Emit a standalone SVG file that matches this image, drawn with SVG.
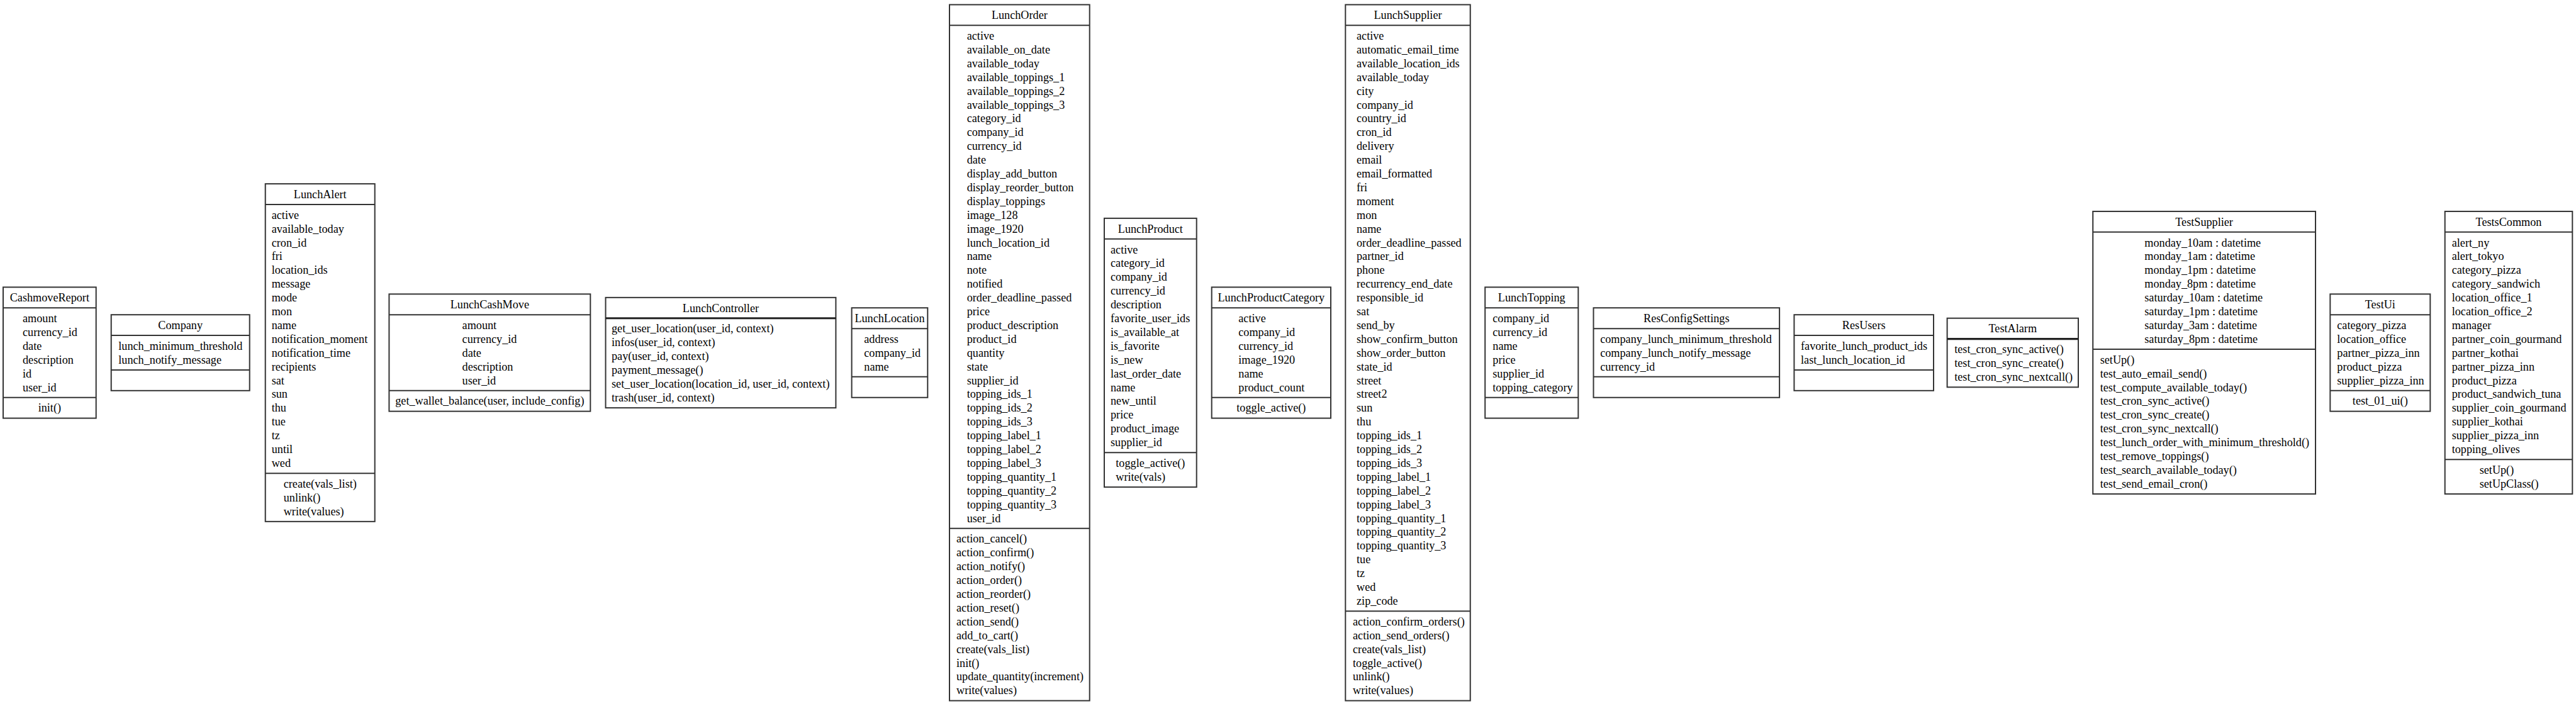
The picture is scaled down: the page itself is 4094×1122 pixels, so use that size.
<svg xmlns="http://www.w3.org/2000/svg" width="4094" height="1122" viewBox="0 0 4094 1122">
<style>
.bg{fill:#ffffff}
.box{fill:#ffffff;stroke:#333333;stroke-width:2}
.div{stroke:#333333;stroke-width:2}
.thick{stroke:#222222;stroke-width:3.2}
text{font-family:"Liberation Serif","Times New Roman",serif;font-size:18.2px;fill:#000000}
.c{text-anchor:middle}
</style>
<rect class="bg" x="0" y="0" width="4094" height="1122"/>
<g id="connectors"></g>

<g id="CashmoveReport">
<rect class="box" x="5" y="456.4" width="147.7" height="208.2"/>
<line class="div" x1="5" y1="489.3" x2="152.7" y2="489.3"/>
<line class="div" x1="5" y1="631.7" x2="152.7" y2="631.7"/>
<text class="c" x="78.85" y="479.1">CashmoveReport</text>
<text x="36" y="512"><tspan x="36">amount</tspan><tspan x="36" dy="21.9">currency_id</tspan><tspan x="36" dy="21.9">date</tspan><tspan x="36" dy="21.9">description</tspan><tspan x="36" dy="21.9">id</tspan><tspan x="36" dy="21.9">user_id</tspan></text>
<text class="c" x="78.85" y="654.4">init()</text>
</g>

<g id="Company">
<rect class="box" x="176.7" y="500.2" width="220" height="120.6"/>
<line class="div" x1="176.7" y1="533.1" x2="396.7" y2="533.1"/>
<line class="div" x1="176.7" y1="587.9" x2="396.7" y2="587.9"/>
<text class="c" x="286.7" y="522.9">Company</text>
<text x="188.3" y="555.8"><tspan x="188.3">lunch_minimum_threshold</tspan><tspan x="188.3" dy="21.9">lunch_notify_message</tspan></text>
</g>

<g id="LunchAlert">
<rect class="box" x="421.7" y="292.15" width="174" height="536.7"/>
<line class="div" x1="421.7" y1="325.05" x2="595.7" y2="325.05"/>
<line class="div" x1="421.7" y1="752.15" x2="595.7" y2="752.15"/>
<text class="c" x="508.7" y="314.85">LunchAlert</text>
<text x="431.7" y="347.75"><tspan x="431.7">active</tspan><tspan x="431.7" dy="21.9">available_today</tspan><tspan x="431.7" dy="21.9">cron_id</tspan><tspan x="431.7" dy="21.9">fri</tspan><tspan x="431.7" dy="21.9">location_ids</tspan><tspan x="431.7" dy="21.9">message</tspan><tspan x="431.7" dy="21.9">mode</tspan><tspan x="431.7" dy="21.9">mon</tspan><tspan x="431.7" dy="21.9">name</tspan><tspan x="431.7" dy="21.9">notification_moment</tspan><tspan x="431.7" dy="21.9">notification_time</tspan><tspan x="431.7" dy="21.9">recipients</tspan><tspan x="431.7" dy="21.9">sat</tspan><tspan x="431.7" dy="21.9">sun</tspan><tspan x="431.7" dy="21.9">thu</tspan><tspan x="431.7" dy="21.9">tue</tspan><tspan x="431.7" dy="21.9">tz</tspan><tspan x="431.7" dy="21.9">until</tspan><tspan x="431.7" dy="21.9">wed</tspan></text>
<text x="450.7" y="774.85"><tspan x="450.7">create(vals_list)</tspan><tspan x="450.7" dy="21.9">unlink()</tspan><tspan x="450.7" dy="21.9">write(values)</tspan></text>
</g>

<g id="LunchCashMove">
<rect class="box" x="618.4" y="467.35" width="319.9" height="186.3"/>
<line class="div" x1="618.4" y1="500.25" x2="938.3" y2="500.25"/>
<line class="div" x1="618.4" y1="620.75" x2="938.3" y2="620.75"/>
<text class="c" x="778.35" y="490.05">LunchCashMove</text>
<text x="734.6" y="522.95"><tspan x="734.6">amount</tspan><tspan x="734.6" dy="21.9">currency_id</tspan><tspan x="734.6" dy="21.9">date</tspan><tspan x="734.6" dy="21.9">description</tspan><tspan x="734.6" dy="21.9">user_id</tspan></text>
<text class="c" x="778.35" y="643.45">get_wallet_balance(user, include_config)</text>
</g>

<g id="LunchController">
<rect class="box" x="962.5" y="472.85" width="365.9" height="175.3"/>
<line class="thick" x1="962.5" y1="505.75" x2="1328.4" y2="505.75"/>
<text class="c" x="1145.45" y="495.55">LunchController</text>
<text x="972" y="528.45"><tspan x="972">get_user_location(user_id, context)</tspan><tspan x="972" dy="21.9">infos(user_id, context)</tspan><tspan x="972" dy="21.9">pay(user_id, context)</tspan><tspan x="972" dy="21.9">payment_message()</tspan><tspan x="972" dy="21.9">set_user_location(location_id, user_id, context)</tspan><tspan x="972" dy="21.9">trash(user_id, context)</tspan></text>
</g>

<g id="LunchLocation">
<rect class="box" x="1353.6" y="489.25" width="120.7" height="142.5"/>
<line class="div" x1="1353.6" y1="522.15" x2="1474.3" y2="522.15"/>
<line class="div" x1="1353.6" y1="598.85" x2="1474.3" y2="598.85"/>
<text class="c" x="1413.95" y="511.95">LunchLocation</text>
<text x="1373.3" y="544.85"><tspan x="1373.3">address</tspan><tspan x="1373.3" dy="21.9">company_id</tspan><tspan x="1373.3" dy="21.9">name</tspan></text>
</g>

<g id="LunchOrder">
<rect class="box" x="1509" y="7.45" width="222.7" height="1106.1"/>
<line class="div" x1="1509" y1="40.35" x2="1731.7" y2="40.35"/>
<line class="div" x1="1509" y1="839.75" x2="1731.7" y2="839.75"/>
<text class="c" x="1620.35" y="30.15">LunchOrder</text>
<text x="1536.7" y="63.05"><tspan x="1536.7">active</tspan><tspan x="1536.7" dy="21.9">available_on_date</tspan><tspan x="1536.7" dy="21.9">available_today</tspan><tspan x="1536.7" dy="21.9">available_toppings_1</tspan><tspan x="1536.7" dy="21.9">available_toppings_2</tspan><tspan x="1536.7" dy="21.9">available_toppings_3</tspan><tspan x="1536.7" dy="21.9">category_id</tspan><tspan x="1536.7" dy="21.9">company_id</tspan><tspan x="1536.7" dy="21.9">currency_id</tspan><tspan x="1536.7" dy="21.9">date</tspan><tspan x="1536.7" dy="21.9">display_add_button</tspan><tspan x="1536.7" dy="21.9">display_reorder_button</tspan><tspan x="1536.7" dy="21.9">display_toppings</tspan><tspan x="1536.7" dy="21.9">image_128</tspan><tspan x="1536.7" dy="21.9">image_1920</tspan><tspan x="1536.7" dy="21.9">lunch_location_id</tspan><tspan x="1536.7" dy="21.9">name</tspan><tspan x="1536.7" dy="21.9">note</tspan><tspan x="1536.7" dy="21.9">notified</tspan><tspan x="1536.7" dy="21.9">order_deadline_passed</tspan><tspan x="1536.7" dy="21.9">price</tspan><tspan x="1536.7" dy="21.9">product_description</tspan><tspan x="1536.7" dy="21.9">product_id</tspan><tspan x="1536.7" dy="21.9">quantity</tspan><tspan x="1536.7" dy="21.9">state</tspan><tspan x="1536.7" dy="21.9">supplier_id</tspan><tspan x="1536.7" dy="21.9">topping_ids_1</tspan><tspan x="1536.7" dy="21.9">topping_ids_2</tspan><tspan x="1536.7" dy="21.9">topping_ids_3</tspan><tspan x="1536.7" dy="21.9">topping_label_1</tspan><tspan x="1536.7" dy="21.9">topping_label_2</tspan><tspan x="1536.7" dy="21.9">topping_label_3</tspan><tspan x="1536.7" dy="21.9">topping_quantity_1</tspan><tspan x="1536.7" dy="21.9">topping_quantity_2</tspan><tspan x="1536.7" dy="21.9">topping_quantity_3</tspan><tspan x="1536.7" dy="21.9">user_id</tspan></text>
<text x="1520" y="862.45"><tspan x="1520">action_cancel()</tspan><tspan x="1520" dy="21.9">action_confirm()</tspan><tspan x="1520" dy="21.9">action_notify()</tspan><tspan x="1520" dy="21.9">action_order()</tspan><tspan x="1520" dy="21.9">action_reorder()</tspan><tspan x="1520" dy="21.9">action_reset()</tspan><tspan x="1520" dy="21.9">action_send()</tspan><tspan x="1520" dy="21.9">add_to_cart()</tspan><tspan x="1520" dy="21.9">create(vals_list)</tspan><tspan x="1520" dy="21.9">init()</tspan><tspan x="1520" dy="21.9">update_quantity(increment)</tspan><tspan x="1520" dy="21.9">write(values)</tspan></text>
</g>

<g id="LunchProduct">
<rect class="box" x="1755" y="346.9" width="146.7" height="427.2"/>
<line class="div" x1="1755" y1="379.8" x2="1901.7" y2="379.8"/>
<line class="div" x1="1755" y1="719.3" x2="1901.7" y2="719.3"/>
<text class="c" x="1828.35" y="369.6">LunchProduct</text>
<text x="1765" y="402.5"><tspan x="1765">active</tspan><tspan x="1765" dy="21.9">category_id</tspan><tspan x="1765" dy="21.9">company_id</tspan><tspan x="1765" dy="21.9">currency_id</tspan><tspan x="1765" dy="21.9">description</tspan><tspan x="1765" dy="21.9">favorite_user_ids</tspan><tspan x="1765" dy="21.9">is_available_at</tspan><tspan x="1765" dy="21.9">is_favorite</tspan><tspan x="1765" dy="21.9">is_new</tspan><tspan x="1765" dy="21.9">last_order_date</tspan><tspan x="1765" dy="21.9">name</tspan><tspan x="1765" dy="21.9">new_until</tspan><tspan x="1765" dy="21.9">price</tspan><tspan x="1765" dy="21.9">product_image</tspan><tspan x="1765" dy="21.9">supplier_id</tspan></text>
<text x="1773.3" y="742"><tspan x="1773.3">toggle_active()</tspan><tspan x="1773.3" dy="21.9">write(vals)</tspan></text>
</g>

<g id="LunchProductCategory">
<rect class="box" x="1925.7" y="456.4" width="189.3" height="208.2"/>
<line class="div" x1="1925.7" y1="489.3" x2="2115" y2="489.3"/>
<line class="div" x1="1925.7" y1="631.7" x2="2115" y2="631.7"/>
<text class="c" x="2020.35" y="479.1">LunchProductCategory</text>
<text x="1968.3" y="512"><tspan x="1968.3">active</tspan><tspan x="1968.3" dy="21.9">company_id</tspan><tspan x="1968.3" dy="21.9">currency_id</tspan><tspan x="1968.3" dy="21.9">image_1920</tspan><tspan x="1968.3" dy="21.9">name</tspan><tspan x="1968.3" dy="21.9">product_count</tspan></text>
<text class="c" x="2020.35" y="654.4">toggle_active()</text>
</g>

<g id="LunchSupplier">
<rect class="box" x="2138.3" y="7.45" width="198.4" height="1106.1"/>
<line class="div" x1="2138.3" y1="40.35" x2="2336.7" y2="40.35"/>
<line class="div" x1="2138.3" y1="971.15" x2="2336.7" y2="971.15"/>
<text class="c" x="2237.5" y="30.15">LunchSupplier</text>
<text x="2156" y="63.05"><tspan x="2156">active</tspan><tspan x="2156" dy="21.9">automatic_email_time</tspan><tspan x="2156" dy="21.9">available_location_ids</tspan><tspan x="2156" dy="21.9">available_today</tspan><tspan x="2156" dy="21.9">city</tspan><tspan x="2156" dy="21.9">company_id</tspan><tspan x="2156" dy="21.9">country_id</tspan><tspan x="2156" dy="21.9">cron_id</tspan><tspan x="2156" dy="21.9">delivery</tspan><tspan x="2156" dy="21.9">email</tspan><tspan x="2156" dy="21.9">email_formatted</tspan><tspan x="2156" dy="21.9">fri</tspan><tspan x="2156" dy="21.9">moment</tspan><tspan x="2156" dy="21.9">mon</tspan><tspan x="2156" dy="21.9">name</tspan><tspan x="2156" dy="21.9">order_deadline_passed</tspan><tspan x="2156" dy="21.9">partner_id</tspan><tspan x="2156" dy="21.9">phone</tspan><tspan x="2156" dy="21.9">recurrency_end_date</tspan><tspan x="2156" dy="21.9">responsible_id</tspan><tspan x="2156" dy="21.9">sat</tspan><tspan x="2156" dy="21.9">send_by</tspan><tspan x="2156" dy="21.9">show_confirm_button</tspan><tspan x="2156" dy="21.9">show_order_button</tspan><tspan x="2156" dy="21.9">state_id</tspan><tspan x="2156" dy="21.9">street</tspan><tspan x="2156" dy="21.9">street2</tspan><tspan x="2156" dy="21.9">sun</tspan><tspan x="2156" dy="21.9">thu</tspan><tspan x="2156" dy="21.9">topping_ids_1</tspan><tspan x="2156" dy="21.9">topping_ids_2</tspan><tspan x="2156" dy="21.9">topping_ids_3</tspan><tspan x="2156" dy="21.9">topping_label_1</tspan><tspan x="2156" dy="21.9">topping_label_2</tspan><tspan x="2156" dy="21.9">topping_label_3</tspan><tspan x="2156" dy="21.9">topping_quantity_1</tspan><tspan x="2156" dy="21.9">topping_quantity_2</tspan><tspan x="2156" dy="21.9">topping_quantity_3</tspan><tspan x="2156" dy="21.9">tue</tspan><tspan x="2156" dy="21.9">tz</tspan><tspan x="2156" dy="21.9">wed</tspan><tspan x="2156" dy="21.9">zip_code</tspan></text>
<text x="2150" y="993.85"><tspan x="2150">action_confirm_orders()</tspan><tspan x="2150" dy="21.9">action_send_orders()</tspan><tspan x="2150" dy="21.9">create(vals_list)</tspan><tspan x="2150" dy="21.9">toggle_active()</tspan><tspan x="2150" dy="21.9">unlink()</tspan><tspan x="2150" dy="21.9">write(values)</tspan></text>
</g>

<g id="LunchTopping">
<rect class="box" x="2360.2" y="456.4" width="148.1" height="208.2"/>
<line class="div" x1="2360.2" y1="489.3" x2="2508.3" y2="489.3"/>
<line class="div" x1="2360.2" y1="631.7" x2="2508.3" y2="631.7"/>
<text class="c" x="2434.25" y="479.1">LunchTopping</text>
<text x="2372.3" y="512"><tspan x="2372.3">company_id</tspan><tspan x="2372.3" dy="21.9">currency_id</tspan><tspan x="2372.3" dy="21.9">name</tspan><tspan x="2372.3" dy="21.9">price</tspan><tspan x="2372.3" dy="21.9">supplier_id</tspan><tspan x="2372.3" dy="21.9">topping_category</tspan></text>
</g>

<g id="ResConfigSettings">
<rect class="box" x="2532.5" y="489.25" width="295.6" height="142.5"/>
<line class="div" x1="2532.5" y1="522.15" x2="2828.1" y2="522.15"/>
<line class="div" x1="2532.5" y1="598.85" x2="2828.1" y2="598.85"/>
<text class="c" x="2680.3" y="511.95">ResConfigSettings</text>
<text x="2543.2" y="544.85"><tspan x="2543.2">company_lunch_minimum_threshold</tspan><tspan x="2543.2" dy="21.9">company_lunch_notify_message</tspan><tspan x="2543.2" dy="21.9">currency_id</tspan></text>
</g>

<g id="ResUsers">
<rect class="box" x="2851.4" y="500.2" width="221.6" height="120.6"/>
<line class="div" x1="2851.4" y1="533.1" x2="3073" y2="533.1"/>
<line class="div" x1="2851.4" y1="587.9" x2="3073" y2="587.9"/>
<text class="c" x="2962.2" y="522.9">ResUsers</text>
<text x="2862" y="555.8"><tspan x="2862">favorite_lunch_product_ids</tspan><tspan x="2862" dy="21.9">last_lunch_location_id</tspan></text>
</g>

<g id="TestAlarm">
<rect class="box" x="3094.6" y="505.7" width="208.4" height="109.6"/>
<line class="thick" x1="3094.6" y1="538.6" x2="3303" y2="538.6"/>
<text class="c" x="3198.8" y="528.4">TestAlarm</text>
<text x="3106.2" y="561.3"><tspan x="3106.2">test_cron_sync_active()</tspan><tspan x="3106.2" dy="21.9">test_cron_sync_create()</tspan><tspan x="3106.2" dy="21.9">test_cron_sync_nextcall()</tspan></text>
</g>

<g id="TestSupplier">
<rect class="box" x="3326.2" y="335.95" width="353.8" height="449.1"/>
<line class="div" x1="3326.2" y1="368.85" x2="3680" y2="368.85"/>
<line class="div" x1="3326.2" y1="555.05" x2="3680" y2="555.05"/>
<text class="c" x="3503.1" y="358.65">TestSupplier</text>
<text x="3408.3" y="391.55"><tspan x="3408.3">monday_10am : datetime</tspan><tspan x="3408.3" dy="21.9">monday_1am : datetime</tspan><tspan x="3408.3" dy="21.9">monday_1pm : datetime</tspan><tspan x="3408.3" dy="21.9">monday_8pm : datetime</tspan><tspan x="3408.3" dy="21.9">saturday_10am : datetime</tspan><tspan x="3408.3" dy="21.9">saturday_1pm : datetime</tspan><tspan x="3408.3" dy="21.9">saturday_3am : datetime</tspan><tspan x="3408.3" dy="21.9">saturday_8pm : datetime</tspan></text>
<text x="3337.7" y="577.75"><tspan x="3337.7">setUp()</tspan><tspan x="3337.7" dy="21.9">test_auto_email_send()</tspan><tspan x="3337.7" dy="21.9">test_compute_available_today()</tspan><tspan x="3337.7" dy="21.9">test_cron_sync_active()</tspan><tspan x="3337.7" dy="21.9">test_cron_sync_create()</tspan><tspan x="3337.7" dy="21.9">test_cron_sync_nextcall()</tspan><tspan x="3337.7" dy="21.9">test_lunch_order_with_minimum_threshold()</tspan><tspan x="3337.7" dy="21.9">test_remove_toppings()</tspan><tspan x="3337.7" dy="21.9">test_search_available_today()</tspan><tspan x="3337.7" dy="21.9">test_send_email_cron()</tspan></text>
</g>

<g id="TestUi">
<rect class="box" x="3703.3" y="467.35" width="159" height="186.3"/>
<line class="div" x1="3703.3" y1="500.25" x2="3862.3" y2="500.25"/>
<line class="div" x1="3703.3" y1="620.75" x2="3862.3" y2="620.75"/>
<text class="c" x="3782.8" y="490.05">TestUi</text>
<text x="3714.3" y="522.95"><tspan x="3714.3">category_pizza</tspan><tspan x="3714.3" dy="21.9">location_office</tspan><tspan x="3714.3" dy="21.9">partner_pizza_inn</tspan><tspan x="3714.3" dy="21.9">product_pizza</tspan><tspan x="3714.3" dy="21.9">supplier_pizza_inn</tspan></text>
<text class="c" x="3782.8" y="643.45">test_01_ui()</text>
</g>

<g id="TestsCommon">
<rect class="box" x="3885.7" y="335.95" width="202.6" height="449.1"/>
<line class="div" x1="3885.7" y1="368.85" x2="4088.3" y2="368.85"/>
<line class="div" x1="3885.7" y1="730.25" x2="4088.3" y2="730.25"/>
<text class="c" x="3987" y="358.65">TestsCommon</text>
<text x="3896.7" y="391.55"><tspan x="3896.7">alert_ny</tspan><tspan x="3896.7" dy="21.9">alert_tokyo</tspan><tspan x="3896.7" dy="21.9">category_pizza</tspan><tspan x="3896.7" dy="21.9">category_sandwich</tspan><tspan x="3896.7" dy="21.9">location_office_1</tspan><tspan x="3896.7" dy="21.9">location_office_2</tspan><tspan x="3896.7" dy="21.9">manager</tspan><tspan x="3896.7" dy="21.9">partner_coin_gourmand</tspan><tspan x="3896.7" dy="21.9">partner_kothai</tspan><tspan x="3896.7" dy="21.9">partner_pizza_inn</tspan><tspan x="3896.7" dy="21.9">product_pizza</tspan><tspan x="3896.7" dy="21.9">product_sandwich_tuna</tspan><tspan x="3896.7" dy="21.9">supplier_coin_gourmand</tspan><tspan x="3896.7" dy="21.9">supplier_kothai</tspan><tspan x="3896.7" dy="21.9">supplier_pizza_inn</tspan><tspan x="3896.7" dy="21.9">topping_olives</tspan></text>
<text x="3940.7" y="752.95"><tspan x="3940.7">setUp()</tspan><tspan x="3940.7" dy="21.9">setUpClass()</tspan></text>
</g>
</svg>
